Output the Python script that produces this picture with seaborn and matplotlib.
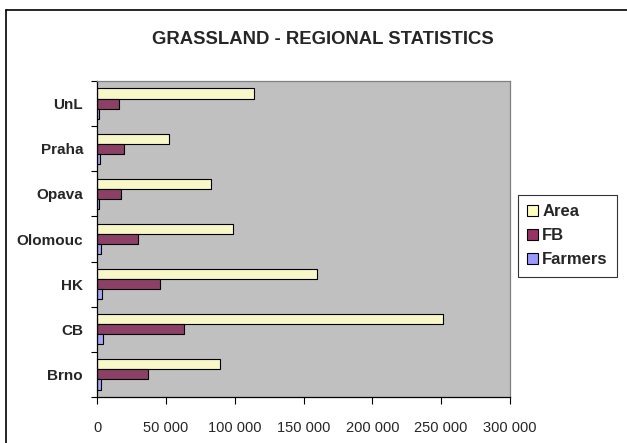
import pandas as pd
import numpy as np
import matplotlib
matplotlib.use("Agg")
import matplotlib.pyplot as plt
import matplotlib.ticker as mticker
from matplotlib.patches import Rectangle
from matplotlib.lines import Line2D
import seaborn as sns

# Data
regions = ["UnL", "Praha", "Opava", "Olomouc", "HK", "CB", "Brno"]
area = [114000, 52000, 83000, 98500, 160000, 251000, 89000]
fb = [16000, 19500, 17500, 30000, 46000, 63500, 37000]
farmers = [1400, 2200, 1400, 2900, 3600, 4400, 2800]
series = ["Area", "FB", "Farmers"]
colors = ["#FFFFC0", "#993366", "#9999FF"]

df = pd.DataFrame({"Region": regions, "Area": area, "FB": fb, "Farmers": farmers})
long_df = df.melt(id_vars="Region", var_name="Series", value_name="Value")

sns.set_style("white")
plt.rcParams['font.family'] = ['Liberation Sans', 'DejaVu Sans']

fig = plt.figure(figsize=(6.27, 4.43), dpi=100)
ax = fig.add_axes([97 / 627, 1 - 397 / 443, (510 - 97) / 627, (397 - 81) / 443])

sns.barplot(data=long_df, y="Region", x="Value", hue="Series", order=regions,
            hue_order=series, palette=colors, orient="h", width=0.67, gap=0,
            edgecolor="black", linewidth=0.8, ax=ax, legend=False)

ax.set_facecolor("#C0C0C0")
ax.set_xlim(0, 300000)
ax.set_ylim(len(regions) - 0.5, -0.5)
ax.xaxis.set_major_locator(mticker.MultipleLocator(50000))
ax.xaxis.set_major_formatter(mticker.FuncFormatter(lambda v, p: f"{int(v):,}".replace(",", " ")))
ax.set_xlabel("")
ax.set_ylabel("")

# tick marks between categories on y, outward ticks on x
ax.set_yticks(np.arange(-0.5, len(regions), 1), minor=True)
ax.tick_params(axis="y", which="major", length=0, pad=10, labelsize=11)
ax.tick_params(axis="y", which="minor", length=4, direction="out", color="black", width=0.8, left=True)
ax.tick_params(axis="x", which="major", length=5, direction="out", color="black", width=0.8,
               bottom=True, pad=12, labelsize=10.5)
for lbl in ax.get_yticklabels():
    lbl.set_fontweight("bold")

for side in ["left", "bottom"]:
    ax.spines[side].set_color("black")
    ax.spines[side].set_linewidth(0.9)
for side in ["top", "right"]:
    ax.spines[side].set_color("#808080")
    ax.spines[side].set_linewidth(0.9)

fig.text(323 / 627, 1 - 39 / 443, "GRASSLAND - REGIONAL STATISTICS",
         ha="center", va="center", fontsize=13.3, fontweight="bold")

handles = [Rectangle((0, 0), 1, 1, facecolor=c, edgecolor="black", linewidth=0.8) for c in colors]
leg = fig.legend(handles, series, loc="upper left", bbox_to_anchor=(518 / 627, 1 - 195 / 443),
                 frameon=True, fancybox=False, handlelength=0.65, handleheight=0.65,
                 handletextpad=0.25, borderpad=0.55, labelspacing=0.55, borderaxespad=0,
                 prop={"weight": "bold", "size": 12})
leg.get_frame().set_edgecolor("black")
leg.get_frame().set_linewidth(0.8)
for t in leg.get_texts():
    t.set_fontweight("bold")

# outer chart border (only top and left edges fall inside the picture)
fig.add_artist(Line2D([6 / 627, 6 / 627], [0, 1 - 10 / 443], transform=fig.transFigure,
                      color="black", linewidth=1.2))
fig.add_artist(Line2D([6 / 627, 1], [1 - 10 / 443, 1 - 10 / 443], transform=fig.transFigure,
                      color="black", linewidth=1.2))

fig.savefig("out.png", dpi=100)
